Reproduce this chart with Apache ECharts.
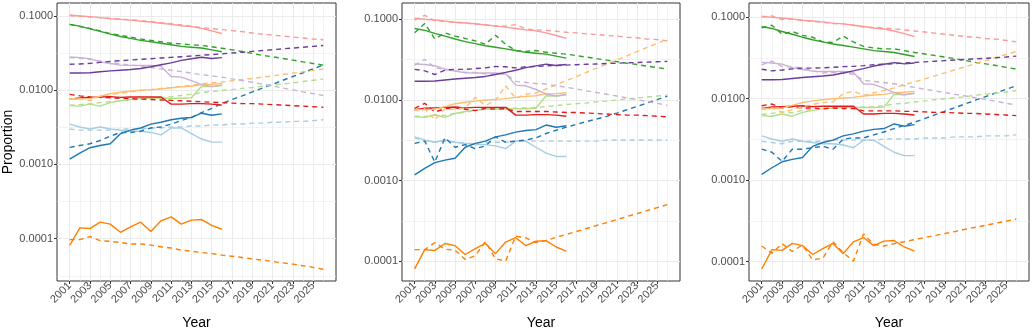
<!DOCTYPE html>
<html>
<head>
<meta charset="utf-8">
<script src="https://cdn.jsdelivr.net/npm/echarts@6/dist/echarts.min.js"></script>
<style>
  html, body { margin: 0; padding: 0; background: #fff; }
  #main { width: 1033px; height: 335px; }
</style>
</head>
<body>
<div id="main"></div>
<script>
// years
var obsYears  = [2001,2002,2003,2004,2005,2006,2007,2008,2009,2010,2011,2012,2013,2014,2015,2016];
var projYears = [2001,2002,2003,2004,2005,2006,2007,2008,2009,2010,2011,2012,2013,2014,2015,2016,
                 2017,2018,2019,2020,2021,2022,2023,2024,2025,2026];
var yearTicks = [2001,2003,2005,2007,2009,2011,2013,2015,2017,2019,2021,2023,2025];
var yearMinor = [2002,2004,2006,2008,2010,2012,2014,2016,2018,2020,2022,2024,2026];
var propTicks = [0.0001, 0.001, 0.01, 0.1];
var propMinor = [0.0000316, 0.000316, 0.00316, 0.0316];

// observed (solid), same in all three panels
var obsPink    = [0.103,0.100,0.098,0.095,0.092,0.090,0.088,0.085,0.083,0.080,0.077,0.074,0.072,0.068,0.063,0.058];
var obsGreen   = [0.077,0.073,0.067,0.062,0.057,0.053,0.050,0.047,0.045,0.043,0.041,0.039,0.038,0.037,0.035,0.033];
var obsLPurple = [0.0280,0.0275,0.0266,0.0241,0.0229,0.0218,0.0216,0.0216,0.0216,0.0211,0.0153,0.0150,0.0135,0.0119,0.0112,0.0117];
var obsPurple  = [0.0171,0.0171,0.0172,0.0177,0.0182,0.0186,0.0190,0.0196,0.0207,0.0220,0.0234,0.0252,0.0265,0.0278,0.0268,0.0275];
var obsLOrange = [0.0076,0.0076,0.0077,0.0083,0.0090,0.0094,0.0097,0.0100,0.0102,0.0104,0.0108,0.0111,0.0113,0.0119,0.0120,0.0123];
var obsRed     = [0.0076,0.0079,0.0080,0.0081,0.0082,0.0080,0.0081,0.0081,0.0081,0.0081,0.0065,0.0065,0.0066,0.0066,0.0065,0.0063];
var obsLGreen  = [0.0062,0.0061,0.0065,0.0061,0.0068,0.0072,0.0075,0.0077,0.0078,0.0078,0.0078,0.0078,0.0079,0.0113,0.0112,0.0116];
var obsDBlue   = [0.00118,0.00142,0.00168,0.0018,0.0019,0.0026,0.0029,0.0031,0.0035,0.0037,0.0040,0.0042,0.0043,0.0049,0.0046,0.0048];
var obsLBlue   = [0.0035,0.0032,0.0030,0.0032,0.0030,0.0029,0.0028,0.0028,0.0027,0.0025,0.0031,0.0031,0.0026,0.0022,0.0020,0.0020];
var obsOrange  = [8.1e-5,1.40e-4,1.37e-4,1.67e-4,1.57e-4,1.22e-4,1.44e-4,1.67e-4,1.25e-4,1.74e-4,1.97e-4,1.57e-4,1.78e-4,1.81e-4,1.51e-4,1.34e-4];

// panel 1 dashed
var p1Pink    = [0.101,0.099,0.097,0.095,0.093,0.091,0.089,0.087,0.084,0.081,0.079,0.076,0.073,0.0695,0.0675,0.0655,0.0635,0.0615,0.059,0.0568,0.0552,0.0536,0.052,0.0505,0.049,0.0478];
var p1Green   = [0.077,0.072,0.068,0.063,0.058,0.055,0.052,0.049,0.047,0.045,0.043,0.042,0.041,0.040,0.0385,0.0368,0.0350,0.0332,0.0313,0.0295,0.0282,0.0268,0.0254,0.0241,0.0229,0.0218];
var p1LPurple = [0.0275,0.027,0.026,0.0248,0.0237,0.0226,0.0218,0.0210,0.0202,0.0194,0.0186,0.0178,0.0170,0.0162,0.0156,0.0150,0.0142,0.0135,0.0128,0.0121,0.0114,0.0107,0.0101,0.0095,0.0090,0.0085];
var p1Purple  = [0.0224,0.0226,0.0230,0.0237,0.0245,0.0250,0.0255,0.0261,0.0266,0.0272,0.0277,0.0283,0.0289,0.0296,0.0302,0.0309,0.0317,0.0325,0.0334,0.0343,0.0352,0.0361,0.0370,0.0380,0.0390,0.0400];
var p1LOrange = [0.0076,0.0078,0.0072,0.0083,0.0087,0.0091,0.0095,0.0099,0.0102,0.0106,0.0109,0.0113,0.0117,0.0122,0.0126,0.0129,0.0134,0.0139,0.0144,0.0150,0.0156,0.0163,0.0170,0.0177,0.0185,0.0193];
var p1Red     = [0.0088,0.0084,0.0081,0.0080,0.0079,0.0078,0.0077,0.0076,0.0075,0.0074,0.0073,0.0072,0.0071,0.0070,0.0069,0.0068,0.0067,0.0066,0.0066,0.0065,0.0064,0.0063,0.0062,0.0061,0.0060,0.0059];
var p1LGreen  = [0.0063,0.0064,0.0066,0.0068,0.0070,0.0072,0.0074,0.0076,0.0078,0.0080,0.0082,0.0085,0.0088,0.0093,0.0096,0.0099,0.0102,0.0106,0.0109,0.0113,0.0117,0.0121,0.0126,0.0131,0.0136,0.0141];
var p1DBlue   = [0.0017,0.0018,0.0019,0.0021,0.0024,0.0027,0.0027,0.0028,0.0031,0.0032,0.0035,0.0039,0.0043,0.0050,0.0057,0.0066,0.0075,0.0084,0.0095,0.0107,0.0120,0.0136,0.0153,0.0172,0.0194,0.0219];
var p1LBlue   = [0.0030,0.0029,0.0029,0.0029,0.0029,0.0030,0.0030,0.0030,0.0031,0.0031,0.0032,0.0032,0.0033,0.0033,0.0034,0.0034,0.0035,0.0035,0.0036,0.0036,0.0037,0.0037,0.0038,0.0038,0.0039,0.0040];
var p1Orange  = [9.7e-5,9.7e-5,1.07e-4,9.4e-5,9.2e-5,8.9e-5,8.5e-5,8.5e-5,8.2e-5,7.8e-5,7.5e-5,7.0e-5,6.8e-5,6.5e-5,6.3e-5,6.0e-5,5.8e-5,5.57e-5,5.35e-5,5.14e-5,4.93e-5,4.73e-5,4.55e-5,4.32e-5,4.11e-5,3.87e-5];

// panel 2 dashed
var p2Pink    = [0.098,0.112,0.096,0.094,0.092,0.090,0.087,0.086,0.082,0.082,0.086,0.076,0.074,0.073,0.071,0.069,0.068,0.066,0.065,0.063,0.062,0.060,0.059,0.057,0.056,0.054];
var p2Green   = [0.068,0.089,0.057,0.068,0.062,0.058,0.054,0.049,0.0636,0.049,0.041,0.040,0.041,0.039,0.038,0.037,0.0355,0.034,0.0326,0.0312,0.0299,0.0286,0.0275,0.0263,0.0252,0.0242];
var p2LPurple = [0.027,0.032,0.025,0.024,0.023,0.022,0.022,0.021,0.021,0.021,0.017,0.0165,0.016,0.0158,0.0150,0.0144,0.0137,0.0130,0.0124,0.0118,0.0112,0.0106,0.0101,0.0096,0.0091,0.0086];
var p2Purple  = [0.024,0.023,0.0207,0.0235,0.024,0.024,0.0245,0.025,0.026,0.0258,0.025,0.0258,0.026,0.0265,0.0268,0.0271,0.0274,0.0277,0.028,0.0283,0.0286,0.0289,0.0292,0.0295,0.0298,0.0301];
var p2LOrange = [0.0074,0.0078,0.0057,0.0078,0.0077,0.0080,0.0108,0.0085,0.0100,0.0150,0.0105,0.0118,0.0122,0.0137,0.0154,0.0174,0.0195,0.0220,0.0248,0.0279,0.0314,0.0353,0.0398,0.0448,0.0505,0.0568];
var p2Red     = [0.0079,0.0091,0.0071,0.0078,0.0080,0.0077,0.0074,0.0079,0.0077,0.0078,0.0072,0.0072,0.0072,0.0072,0.0071,0.0070,0.0070,0.0069,0.0068,0.0067,0.0066,0.0065,0.0065,0.0064,0.0063,0.0062];
var p2LGreen  = [0.0063,0.0062,0.0066,0.0064,0.0069,0.0070,0.0075,0.0077,0.0078,0.0079,0.0079,0.0080,0.0081,0.0083,0.0085,0.0088,0.0090,0.0092,0.0095,0.0097,0.0100,0.0103,0.0106,0.0109,0.0112,0.0115];
var p2DBlue   = [0.0029,0.0031,0.0017,0.0034,0.0026,0.0028,0.0025,0.0027,0.0035,0.0030,0.0031,0.0032,0.0034,0.00385,0.00422,0.00462,0.00499,0.0054,0.00582,0.00628,0.00689,0.00757,0.00834,0.00918,0.0101,0.0112];
var p2LBlue   = [0.0034,0.0031,0.0030,0.0031,0.0030,0.0029,0.0029,0.0030,0.0030,0.0030,0.0031,0.0031,0.0031,0.0031,0.0031,0.0031,0.0031,0.0031,0.0031,0.0032,0.0032,0.0032,0.0032,0.0032,0.0032,0.0032];
var p2Orange  = [1.40e-4,1.40e-4,1.71e-4,1.42e-4,1.38e-4,1.06e-4,1.18e-4,1.76e-4,1.08e-4,1.01e-4,2.06e-4,1.96e-4,1.71e-4,1.82e-4,1.99e-4,2.16e-4,2.35e-4,2.56e-4,2.79e-4,3.03e-4,3.30e-4,3.60e-4,3.92e-4,4.27e-4,4.65e-4,5.05e-4];

// panel 3 dashed
var p3Pink    = [0.101,0.104,0.094,0.096,0.092,0.089,0.087,0.084,0.083,0.080,0.076,0.075,0.074,0.072,0.070,0.068,0.066,0.064,0.062,0.060,0.058,0.057,0.055,0.054,0.052,0.050];
var p3Green   = [0.0745,0.080,0.062,0.067,0.060,0.057,0.050,0.049,0.059,0.050,0.044,0.042,0.041,0.041,0.039,0.037,0.0355,0.034,0.0325,0.031,0.0295,0.028,0.0268,0.0256,0.0243,0.0231];
var p3LPurple = [0.026,0.029,0.025,0.0245,0.024,0.022,0.0208,0.021,0.0207,0.020,0.0168,0.0163,0.0158,0.0153,0.0145,0.0138,0.0131,0.0125,0.0119,0.0113,0.0108,0.0103,0.0098,0.0093,0.0088,0.0084];
var p3Purple  = [0.023,0.022,0.0225,0.0233,0.0238,0.0238,0.024,0.0243,0.0248,0.025,0.0255,0.0262,0.0265,0.027,0.0275,0.0279,0.0284,0.0289,0.0294,0.0299,0.0304,0.0309,0.0314,0.0319,0.0326,0.0334];
var p3LOrange = [0.0074,0.0077,0.0068,0.0073,0.0080,0.0085,0.0090,0.0092,0.0115,0.0124,0.0110,0.0118,0.0126,0.0136,0.0148,0.0161,0.0175,0.0191,0.0208,0.0227,0.0247,0.0270,0.0294,0.0320,0.0349,0.0380];
var p3Red     = [0.0082,0.0086,0.0077,0.0080,0.0077,0.0077,0.0075,0.0077,0.0076,0.0076,0.0071,0.0071,0.0071,0.0071,0.0070,0.0070,0.0069,0.0068,0.0068,0.0067,0.0066,0.0066,0.0065,0.0064,0.0063,0.0062];
var p3LGreen  = [0.0064,0.0066,0.0069,0.0067,0.0072,0.0074,0.0077,0.0077,0.0078,0.0078,0.0079,0.0080,0.0082,0.0086,0.0088,0.0091,0.0094,0.0097,0.0100,0.0103,0.0106,0.0110,0.0114,0.0117,0.0121,0.0126];
var p3DBlue   = [0.0024,0.0022,0.0017,0.0024,0.0024,0.0025,0.0026,0.0024,0.0032,0.0033,0.0033,0.0036,0.0039,0.0043,0.0047,0.00515,0.00571,0.00634,0.00703,0.0078,0.00865,0.0096,0.01064,0.01178,0.01306,0.01445];
var p3LBlue   = [0.0030,0.0029,0.0028,0.0030,0.0030,0.0030,0.0030,0.0031,0.0031,0.0031,0.0031,0.0031,0.0032,0.0032,0.0032,0.0032,0.0033,0.0033,0.0033,0.0034,0.0034,0.0034,0.0035,0.0035,0.0035,0.0036];
var p3Orange  = [1.55e-4,1.26e-4,1.66e-4,1.33e-4,1.60e-4,1.05e-4,1.10e-4,1.75e-4,1.29e-4,1.01e-4,2.18e-4,1.63e-4,1.55e-4,1.66e-4,1.75e-4,1.86e-4,1.97e-4,2.09e-4,2.21e-4,2.34e-4,2.49e-4,2.64e-4,2.79e-4,2.96e-4,3.13e-4,3.33e-4];

var FONT = '"Liberation Sans", Arial, sans-serif';

// colour, observed, [dashed panel1, panel2, panel3]
var groups = [
  ['#A6CEE3', obsLBlue,   [p1LBlue, p2LBlue, p3LBlue]],
  ['#1F78B4', obsDBlue,   [p1DBlue, p2DBlue, p3DBlue]],
  ['#B2DF8A', obsLGreen,  [p1LGreen, p2LGreen, p3LGreen]],
  ['#33A02C', obsGreen,   [p1Green, p2Green, p3Green]],
  ['#FB9A99', obsPink,    [p1Pink, p2Pink, p3Pink]],
  ['#E31A1C', obsRed,     [p1Red, p2Red, p3Red]],
  ['#FDBF6F', obsLOrange, [p1LOrange, p2LOrange, p3LOrange]],
  ['#FF7F00', obsOrange,  [p1Orange, p2Orange, p3Orange]],
  ['#CAB2D6', obsLPurple, [p1LPurple, p2LPurple, p3LPurple]],
  ['#6A3D9A', obsPurple,  [p1Purple, p2Purple, p3Purple]]
];

var panels = [
  {left: 55,  width: 281, yMin: Math.pow(10, -4.57), yMax: Math.pow(10, -0.825), yName: 'Proportion'},
  {left: 402, width: 278, yMin: Math.pow(10, -4.242), yMax: Math.pow(10, -0.798), yName: ''},
  {left: 749, width: 280, yMin: Math.pow(10, -4.239), yMax: Math.pow(10, -0.824), yName: ''}
];

function pairs(xs, ys) {
  var out = [];
  for (var i = 0; i < ys.length; i++) out.push([xs[i], ys[i]]);
  return out;
}

var grids = [], xAxes = [], yAxes = [], series = [];

panels.forEach(function (p, i) {
  grids.push({left: p.left, top: 3, width: p.width, height: 284, show: true,
              borderColor: '#333333', borderWidth: 1, backgroundColor: 'transparent'});

  // major x (labels + gridlines at odd years)
  xAxes.push({
    type: 'value', gridIndex: i, min: 1999.75, max: 2027.25, position: 'bottom',
    axisLine: {show: false},
    axisTick: {show: true, customValues: yearTicks, length: 3, lineStyle: {color: '#333333'}},
    axisLabel: {customValues: yearTicks, rotate: 45, fontSize: 11, color: '#4d4d4d', margin: 3, fontFamily: FONT,
                formatter: function (v) { return String(Math.round(v)); }},
    splitLine: {show: true, lineStyle: {color: '#ebebeb', width: 1}},
    name: 'Year', nameLocation: 'middle', nameGap: 35,
    nameTextStyle: {fontSize: 14, color: '#000', fontFamily: FONT}
  });
  // minor x gridlines at even years
  xAxes.push({
    type: 'value', gridIndex: i, min: 1999.75, max: 2027.25, position: 'bottom',
    axisLine: {show: false},
    axisTick: {show: false, customValues: yearMinor},
    axisLabel: {show: false},
    splitLine: {show: true, lineStyle: {color: '#ebebeb', width: 0.6}}
  });

  // major y
  yAxes.push({
    type: 'log', logBase: 10, gridIndex: i, min: p.yMin, max: p.yMax,
    axisLine: {show: false},
    axisTick: {show: true, customValues: propTicks, length: 3, lineStyle: {color: '#333333'}},
    axisLabel: {customValues: propTicks, fontSize: 11, color: '#4d4d4d', margin: 4, fontFamily: FONT,
                formatter: function (v) { return Number(v).toFixed(4); }},
    splitLine: {show: true, lineStyle: {color: '#ebebeb', width: 1}},
    name: p.yName, nameLocation: 'middle', nameGap: 42, nameRotate: 90,
    nameTextStyle: {fontSize: 14, color: '#000', fontFamily: FONT}
  });
  // minor y at half decades
  yAxes.push({
    type: 'log', logBase: 10, gridIndex: i, min: p.yMin, max: p.yMax,
    axisLine: {show: false},
    axisTick: {show: false, customValues: propMinor},
    axisLabel: {show: false},
    splitLine: {show: true, lineStyle: {color: '#ebebeb', width: 0.6}}
  });

  groups.forEach(function (g) {
    series.push({
      type: 'line', xAxisIndex: i * 2, yAxisIndex: i * 2, data: pairs(projYears, g[2][i]),
      showSymbol: false, symbol: 'none', silent: true,
      lineStyle: {color: g[0], width: 1.4, type: [5, 4]}
    });
    series.push({
      type: 'line', xAxisIndex: i * 2, yAxisIndex: i * 2, data: pairs(obsYears, g[1]),
      showSymbol: false, symbol: 'none', silent: true,
      lineStyle: {color: g[0], width: 1.4}
    });
  });
});

var chart = echarts.init(document.getElementById('main'), null, {renderer: 'canvas'});
chart.setOption({
  animation: false,
  backgroundColor: '#ffffff',
  grid: grids,
  xAxis: xAxes,
  yAxis: yAxes,
  series: series
});
</script>
</body>
</html>
